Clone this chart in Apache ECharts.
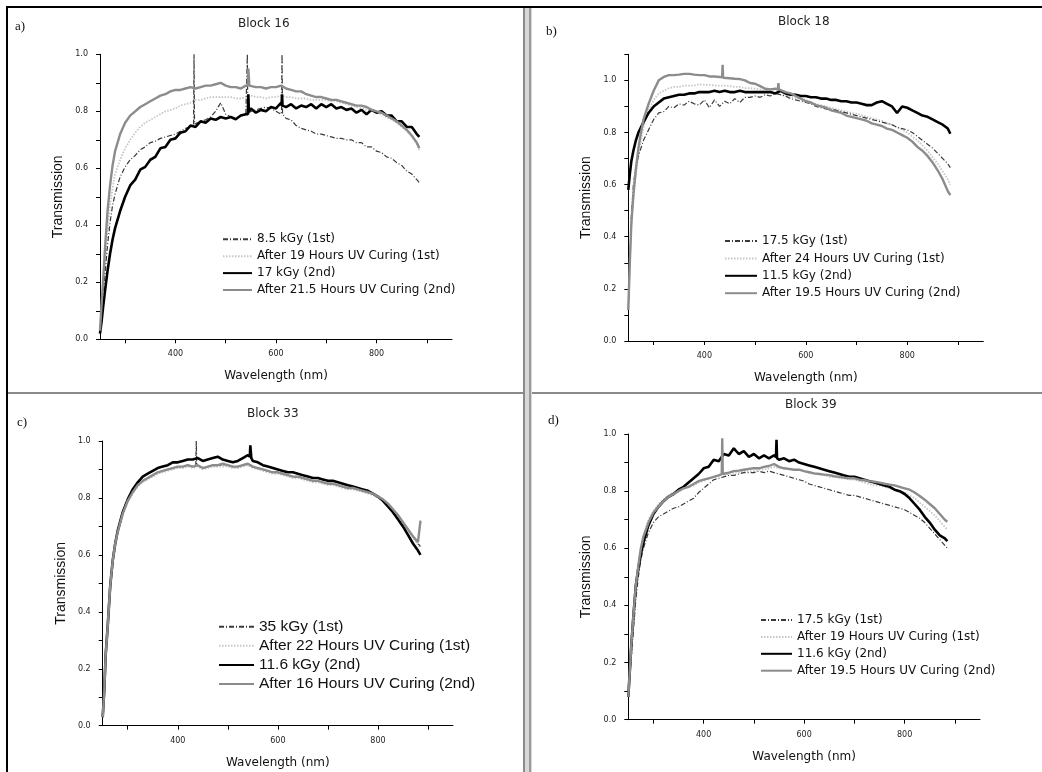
<!DOCTYPE html>
<html>
<head>
<meta charset="utf-8">
<script src="https://cdn.jsdelivr.net/npm/echarts@6/dist/echarts.min.js"></script>
<style>html,body{margin:0;padding:0;background:#fff}#c{width:1042px;height:772px}</style>
</head>
<body>
<div id="c"></div>
<script>
// Wavelength grid (nm)
const WL = [250,253,256,260,265,270,275,280,
 290,300,310,320,330,340,350,360,370,380,
 390,400,410,420,430,440,450,460,470,480,
 490,500,510,520,530,540,550,560,570,580,
 590,600,610,620,630,640,650,660,670,680,
 690,700,710,720,730,740,750,760,770,780,
 790,800,810,820,830,840,850,860,870,880,885];

const panelTitles = ['Block 16','Block 18','Block 33','Block 39'];
const panelLetters = ['a)','b)','c)','d)'];
const yMax = [1.0, 1.1, 1.0, 1.0];
const xTicks = [300,400,500,600,700,800,900];
const xLabels = [400,600,800];

// Panel a — Block 16
const aNames = ['8.5 kGy (1st)','After 19 Hours UV Curing (1st)','17 kGy (2nd)','After 21.5 Hours UV Curing (2nd)'];
const a1 = [0.03,0.09,0.15,0.23,0.33,0.41,0.47,0.51,
 0.57,0.605,0.63,0.645,0.665,0.675,0.69,0.695,0.705,0.71,
 0.715,0.72,0.73,0.74,0.745,0.755,0.765,0.77,0.78,0.80,
 0.83,0.79,0.78,0.775,0.785,0.79,0.80,0.805,0.81,0.815,
 0.81,0.80,0.79,0.775,0.77,0.75,0.74,0.735,0.73,0.72,
 0.72,0.715,0.71,0.705,0.705,0.70,0.70,0.69,0.69,0.675,
 0.675,0.66,0.655,0.64,0.635,0.62,0.61,0.59,0.58,0.56,0.55];
const a1Spikes = [[436,0.75],[437,1.0],[438,0.755],[542,0.79],[543,1.0],[544,0.79],[611,0.80],[612,1.0],[613,0.79]];
const a2 = [0.03,0.10,0.17,0.27,0.38,0.47,0.53,0.58,
 0.63,0.67,0.70,0.725,0.745,0.76,0.77,0.78,0.79,0.80,
 0.805,0.81,0.82,0.825,0.83,0.84,0.84,0.845,0.85,0.85,
 0.85,0.85,0.85,0.845,0.845,0.85,0.855,0.85,0.85,0.845,
 0.85,0.85,0.855,0.85,0.85,0.845,0.845,0.845,0.84,0.84,
 0.84,0.84,0.835,0.835,0.83,0.825,0.82,0.815,0.81,0.805,
 0.80,0.795,0.79,0.78,0.77,0.76,0.745,0.73,0.71,0.685,0.665];
const a3 = [0.02,0.06,0.11,0.17,0.24,0.30,0.35,0.39,
 0.45,0.50,0.54,0.56,0.595,0.605,0.63,0.64,0.67,0.675,
 0.70,0.705,0.725,0.73,0.75,0.745,0.765,0.76,0.775,0.77,
 0.78,0.775,0.78,0.772,0.785,0.79,0.81,0.795,0.805,0.80,
 0.815,0.81,0.83,0.815,0.825,0.81,0.82,0.815,0.825,0.81,
 0.825,0.815,0.825,0.81,0.815,0.805,0.81,0.795,0.805,0.79,
 0.805,0.795,0.80,0.785,0.785,0.765,0.765,0.745,0.745,0.72,0.71];
const a3Spikes = [[544,0.79],[545,0.86],[546,0.80],[611,0.82],[612,0.86],[613,0.82]];
const a4 = [0.03,0.12,0.20,0.32,0.45,0.54,0.61,0.66,
 0.72,0.76,0.785,0.80,0.815,0.825,0.835,0.845,0.855,0.86,
 0.87,0.875,0.875,0.88,0.885,0.88,0.885,0.89,0.89,0.895,
 0.90,0.89,0.885,0.885,0.88,0.89,0.885,0.885,0.885,0.88,
 0.885,0.885,0.89,0.88,0.875,0.87,0.87,0.86,0.855,0.85,
 0.85,0.845,0.84,0.84,0.835,0.83,0.825,0.82,0.82,0.815,
 0.805,0.80,0.795,0.785,0.775,0.765,0.75,0.735,0.715,0.69,0.67];
const a4Spikes = [[544,0.89],[545,0.95],[547,0.89]];

// Panel b — Block 18
const bNames = ['17.5 kGy (1st)','After 24 Hours UV Curing (1st)','11.5 kGy (2nd)','After 19.5 Hours UV Curing (2nd)'];
const b1 = [0.12,0.30,0.48,0.60,0.67,0.71,0.74,0.77,
 0.81,0.85,0.875,0.88,0.90,0.895,0.91,0.905,0.92,0.91,
 0.905,0.925,0.895,0.925,0.90,0.92,0.91,0.93,0.915,0.935,
 0.935,0.94,0.935,0.945,0.94,0.95,0.945,0.94,0.93,0.925,
 0.92,0.915,0.91,0.90,0.895,0.89,0.89,0.885,0.88,0.875,
 0.87,0.865,0.86,0.855,0.85,0.845,0.84,0.835,0.83,0.82,
 0.815,0.81,0.80,0.785,0.77,0.755,0.74,0.72,0.70,0.68,0.665];
const b2 = [0.12,0.30,0.45,0.55,0.64,0.71,0.77,0.82,
 0.885,0.925,0.95,0.96,0.97,0.975,0.975,0.98,0.98,0.98,
 0.985,0.983,0.983,0.98,0.98,0.98,0.978,0.975,0.975,0.97,
 0.97,0.968,0.965,0.96,0.955,0.95,0.945,0.942,0.938,0.933,
 0.93,0.925,0.915,0.91,0.905,0.90,0.895,0.89,0.885,0.88,
 0.875,0.872,0.867,0.86,0.855,0.85,0.845,0.835,0.83,0.82,
 0.81,0.80,0.785,0.77,0.75,0.73,0.705,0.68,0.65,0.62,0.60];
const b3 = [0.58,0.64,0.69,0.73,0.77,0.80,0.82,0.84,
 0.875,0.90,0.915,0.93,0.935,0.94,0.945,0.945,0.95,0.95,
 0.955,0.955,0.955,0.96,0.955,0.96,0.955,0.955,0.96,0.955,
 0.955,0.955,0.955,0.955,0.955,0.95,0.96,0.95,0.945,0.945,
 0.94,0.94,0.935,0.935,0.93,0.93,0.925,0.925,0.92,0.92,
 0.915,0.915,0.91,0.905,0.905,0.915,0.92,0.91,0.90,0.875,
 0.90,0.895,0.885,0.875,0.865,0.86,0.85,0.84,0.83,0.815,0.795];
const b4 = [0.12,0.30,0.45,0.56,0.66,0.74,0.80,0.85,
 0.91,0.96,1.0,1.013,1.02,1.02,1.022,1.025,1.025,1.022,
 1.02,1.02,1.015,1.015,1.013,1.01,1.008,1.006,1.005,1.0,
 0.99,0.987,0.978,0.968,0.965,0.968,0.96,0.955,0.95,0.94,
 0.93,0.92,0.915,0.905,0.90,0.895,0.885,0.88,0.875,0.865,
 0.86,0.855,0.85,0.845,0.835,0.83,0.825,0.815,0.81,0.80,
 0.79,0.78,0.765,0.745,0.73,0.71,0.685,0.655,0.62,0.575,0.56];
const b4Spikes = [[435,1.012],[436,1.06],[437,1.01],[545,0.965],[546,0.99],[547,0.965]];

// Panel c — Block 33
const cNames = ['35 kGy (1st)','After 22 Hours UV Curing (1st)','11.6 kGy (2nd)','After 16 Hours UV Curing (2nd)'];
const c1 = [0.03,0.12,0.25,0.35,0.49,0.58,0.64,0.68,
 0.745,0.79,0.82,0.845,0.86,0.87,0.88,0.89,0.895,0.90,
 0.905,0.91,0.91,0.915,0.91,0.915,0.905,0.91,0.915,0.915,
 0.915,0.915,0.91,0.91,0.915,0.92,0.91,0.905,0.90,0.895,
 0.89,0.89,0.885,0.88,0.875,0.875,0.87,0.865,0.86,0.86,
 0.855,0.85,0.85,0.845,0.84,0.835,0.835,0.83,0.825,0.82,
 0.815,0.805,0.795,0.78,0.76,0.74,0.715,0.69,0.665,0.64,0.63];
const c1Spikes = [[436,0.915],[437,1.0],[438,0.915]];
const c2 = [0.03,0.12,0.25,0.35,0.48,0.57,0.63,0.675,
 0.74,0.785,0.815,0.84,0.855,0.865,0.875,0.885,0.89,0.895,
 0.90,0.905,0.905,0.91,0.905,0.91,0.90,0.905,0.91,0.91,
 0.91,0.91,0.905,0.905,0.91,0.915,0.905,0.90,0.895,0.89,
 0.885,0.885,0.88,0.875,0.87,0.87,0.865,0.86,0.855,0.855,
 0.85,0.845,0.845,0.84,0.835,0.83,0.83,0.825,0.82,0.815,
 0.81,0.80,0.79,0.775,0.755,0.735,0.71,0.685,0.66,0.635,0.625];
const c3 = [0.03,0.12,0.25,0.35,0.49,0.58,0.64,0.685,
 0.75,0.795,0.83,0.855,0.875,0.885,0.895,0.905,0.91,0.915,
 0.925,0.925,0.93,0.935,0.935,0.94,0.93,0.935,0.94,0.945,
 0.935,0.93,0.925,0.93,0.94,0.95,0.93,0.925,0.915,0.91,
 0.905,0.90,0.895,0.89,0.89,0.885,0.88,0.875,0.87,0.87,
 0.865,0.86,0.86,0.855,0.85,0.845,0.84,0.835,0.83,0.825,
 0.815,0.805,0.79,0.77,0.75,0.725,0.70,0.67,0.64,0.615,0.60];
const c3Spikes = [[544,0.945],[545,0.985],[547,0.94]];
const c4 = [0.03,0.12,0.25,0.35,0.49,0.58,0.64,0.68,
 0.745,0.79,0.82,0.845,0.86,0.87,0.88,0.89,0.895,0.90,
 0.905,0.91,0.91,0.915,0.91,0.915,0.905,0.91,0.915,0.915,
 0.92,0.915,0.91,0.91,0.915,0.92,0.91,0.905,0.90,0.895,
 0.89,0.89,0.885,0.88,0.875,0.875,0.87,0.865,0.86,0.86,
 0.855,0.85,0.85,0.845,0.84,0.835,0.835,0.83,0.825,0.82,
 0.815,0.805,0.795,0.78,0.76,0.74,0.715,0.69,0.665,0.645,0.72];

// Panel d — Block 39
const dNames = ['17.5 kGy (1st)','After 19 Hours UV Curing (1st)','11.6 kGy (2nd)','After 19.5 Hours UV Curing (2nd)'];
const d1 = [0.08,0.15,0.22,0.31,0.42,0.50,0.56,0.60,
 0.655,0.69,0.71,0.72,0.73,0.74,0.745,0.755,0.765,0.775,
 0.795,0.81,0.825,0.84,0.845,0.85,0.855,0.855,0.86,0.865,
 0.865,0.865,0.87,0.865,0.87,0.865,0.86,0.855,0.85,0.845,
 0.84,0.835,0.825,0.82,0.815,0.81,0.805,0.80,0.795,0.79,
 0.785,0.785,0.78,0.775,0.77,0.765,0.76,0.755,0.75,0.745,
 0.74,0.735,0.725,0.715,0.705,0.69,0.67,0.65,0.63,0.61,0.60];
const d2 = [0.08,0.17,0.26,0.36,0.46,0.54,0.60,0.64,
 0.70,0.73,0.755,0.77,0.785,0.795,0.80,0.81,0.815,0.82,
 0.83,0.835,0.845,0.85,0.855,0.86,0.86,0.865,0.865,0.87,
 0.87,0.87,0.875,0.875,0.88,0.885,0.88,0.88,0.875,0.875,
 0.875,0.87,0.865,0.86,0.86,0.855,0.85,0.85,0.845,0.845,
 0.84,0.84,0.835,0.83,0.825,0.82,0.82,0.815,0.81,0.805,
 0.80,0.795,0.785,0.775,0.76,0.745,0.73,0.715,0.695,0.675,0.665];
const d3 = [0.08,0.17,0.26,0.36,0.47,0.53,0.58,0.62,
 0.68,0.72,0.745,0.765,0.78,0.79,0.805,0.815,0.83,0.845,
 0.86,0.88,0.885,0.91,0.905,0.93,0.925,0.95,0.93,0.94,
 0.92,0.93,0.915,0.925,0.915,0.925,0.91,0.915,0.905,0.91,
 0.90,0.895,0.89,0.885,0.88,0.875,0.87,0.865,0.86,0.855,
 0.85,0.85,0.845,0.84,0.835,0.83,0.825,0.82,0.815,0.805,
 0.80,0.79,0.775,0.755,0.735,0.71,0.69,0.665,0.645,0.635,0.625];
const d3Spikes = [[544,0.92],[545,0.98],[546,0.915]];
const d4 = [0.08,0.17,0.26,0.36,0.47,0.54,0.60,0.64,
 0.69,0.725,0.745,0.765,0.78,0.79,0.80,0.81,0.815,0.825,
 0.835,0.84,0.845,0.85,0.855,0.86,0.865,0.87,0.872,0.875,
 0.878,0.88,0.88,0.885,0.888,0.895,0.885,0.88,0.878,0.875,
 0.875,0.87,0.866,0.862,0.86,0.858,0.856,0.852,0.85,0.847,
 0.845,0.845,0.84,0.838,0.835,0.833,0.83,0.826,0.823,0.82,
 0.815,0.81,0.805,0.795,0.783,0.77,0.755,0.74,0.72,0.70,0.693];
const d4Spikes = [[436,0.86],[437,0.985],[438,0.86]];

function mk(vals, spikes){
  const pts = WL.map((w,i)=>[w, vals[i]]);
  if (spikes) spikes.forEach(p=>pts.push(p));
  pts.sort((p,q)=>p[0]-q[0]);
  return pts;
}

const STY = [
  {color:'#3a3a3a', width:1.2, type:[5,2,1,2]},
  {color:'#c6c6c6', width:1.8, type:[1.5,1.5]},
  {color:'#000000', width:2.6, type:'solid'},
  {color:'#8c8c8c', width:2.4, type:'solid'}
];

const panels = [
  {names:aNames, data:[mk(a1,a1Spikes),mk(a2),mk(a3,a3Spikes),mk(a4,a4Spikes)]},
  {names:bNames, data:[mk(b1),mk(b2),mk(b3),mk(b4,b4Spikes)]},
  {names:cNames, data:[mk(c1,c1Spikes),mk(c2),mk(c3,c3Spikes),mk(c4)]},
  {names:dNames, data:[mk(d1),mk(d2),mk(d3,d3Spikes),mk(d4,d4Spikes)]}
];

const grids = [
  {left:100, top:54.3, width:352, height:285},
  {left:628.3, top:54.3, width:355, height:286.7},
  {left:102.7, top:441, width:350.3, height:284.7},
  {left:628.3, top:434, width:351.7, height:285.7}
];
const titlePos = [[238,18],[778,16],[247,408],[785,399]];
const letterPos = [[15,28],[546,33],[17,424],[548,422]];
const legendPos = [
  {left:222, top:233.3, itemWidth:29, ih:12, lh:12, gap:4.9, font:'DejaVu Sans', size:12},
  {left:724, top:235, itemWidth:32, ih:12, lh:12, gap:5.4, font:'DejaVu Sans', size:12},
  {left:218, top:618.7, itemWidth:35, ih:12, lh:16, gap:3.1, font:'Liberation Sans', size:15.5},
  {left:760, top:614, itemWidth:31, ih:12, lh:12, gap:4.9, font:'DejaVu Sans', size:12}
];

const axFont = 'DejaVu Sans';
const option = {
  animation:false,
  backgroundColor:'#ffffff',
  grid: grids.map(g=>Object.assign({containLabel:false}, g)),
  title: panelTitles.map((t,i)=>({text:t, left:titlePos[i][0], top:titlePos[i][1], padding:0,
    textStyle:{fontFamily:axFont, fontSize:12, fontWeight:'normal', color:'#222'}})),
  legend: panels.map((p,i)=>({
    orient:'vertical', left:legendPos[i].left, top:legendPos[i].top,
    itemWidth:legendPos[i].itemWidth, itemHeight:legendPos[i].ih, itemGap:legendPos[i].gap,
    padding:0, selectedMode:false, data:p.names,
    itemStyle:{opacity:0, borderWidth:0, color:'rgba(0,0,0,0)'},
    textStyle:{fontFamily:legendPos[i].font, fontSize:legendPos[i].size, lineHeight:legendPos[i].lh, color:'#111'}
  })),
  xAxis: grids.map((g,i)=>({
    type:'value', gridIndex:i, min:250, max:950,
    name:'Wavelength (nm)', nameLocation:'middle', nameGap:31,
    nameTextStyle:{fontFamily:axFont, fontSize:12, color:'#111'},
    axisLine:{show:true, lineStyle:{color:'#000', width:1}},
    axisTick:{show:true, length:4, lineStyle:{color:'#000'}, customValues:xTicks},
    axisLabel:{customValues:xLabels, fontFamily:axFont, fontSize:8, color:'#222', margin:11},
    splitLine:{show:false}
  })),
  yAxis: grids.map((g,i)=>({
    type:'value', gridIndex:i, min:0, max:yMax[i], interval:0.1,
    name:'Transmission', nameLocation:'middle', nameGap:35,
    nameTextStyle:{fontFamily:'Liberation Sans', fontSize:14, color:'#111'},
    axisLine:{show:true, lineStyle:{color:'#000', width:1}},
    axisTick:{show:true, length:4, lineStyle:{color:'#000'}},
    axisLabel:{fontFamily:axFont, fontSize:8, color:'#222', margin:12,
      formatter:v=>{const k=Math.round(v*10); return (k%2===0)? (k/10).toFixed(1):'';}},
    splitLine:{show:false}
  })),
  series: [],
  graphic: [
    {type:'rect', shape:{x:6,y:6,width:1036,height:2}, style:{fill:'#000'}, silent:true},
    {type:'rect', shape:{x:6,y:6,width:2,height:766}, style:{fill:'#000'}, silent:true},
    {type:'rect', shape:{x:523,y:8,width:9,height:764}, style:{fill:'#d8d8d8'}, silent:true},
    {type:'rect', shape:{x:523,y:8,width:2,height:764}, style:{fill:'#8a8a8a'}, silent:true},
    {type:'rect', shape:{x:529,y:8,width:2,height:764}, style:{fill:'#9a9a9a'}, silent:true},
    {type:'rect', shape:{x:8,y:392,width:515,height:2}, style:{fill:'#8a8a8a'}, silent:true},
    {type:'rect', shape:{x:532,y:392,width:510,height:2}, style:{fill:'#8a8a8a'}, silent:true}
  ].concat(panelLetters.map((t,i)=>({type:'text', left:letterPos[i][0], top:letterPos[i][1]-8,
    style:{text:t, font:'13px "Liberation Serif"', fill:'#111'}, silent:true})))
};

panels.forEach((p,i)=>{
  p.data.forEach((d,j)=>{
    option.series.push({
      type:'line', name:p.names[j], xAxisIndex:i, yAxisIndex:i,
      data:d, showSymbol:false, symbol:'none', clip:true,
      lineStyle:{color:STY[j].color, width:STY[j].width, type:STY[j].type},
      itemStyle:{color:STY[j].color},
      z: j===0 ? 4 : 2+j
    });
  });
});

const chart = echarts.init(document.getElementById('c'), null, {renderer:'canvas'});
chart.setOption(option);
</script>
</body>
</html>
